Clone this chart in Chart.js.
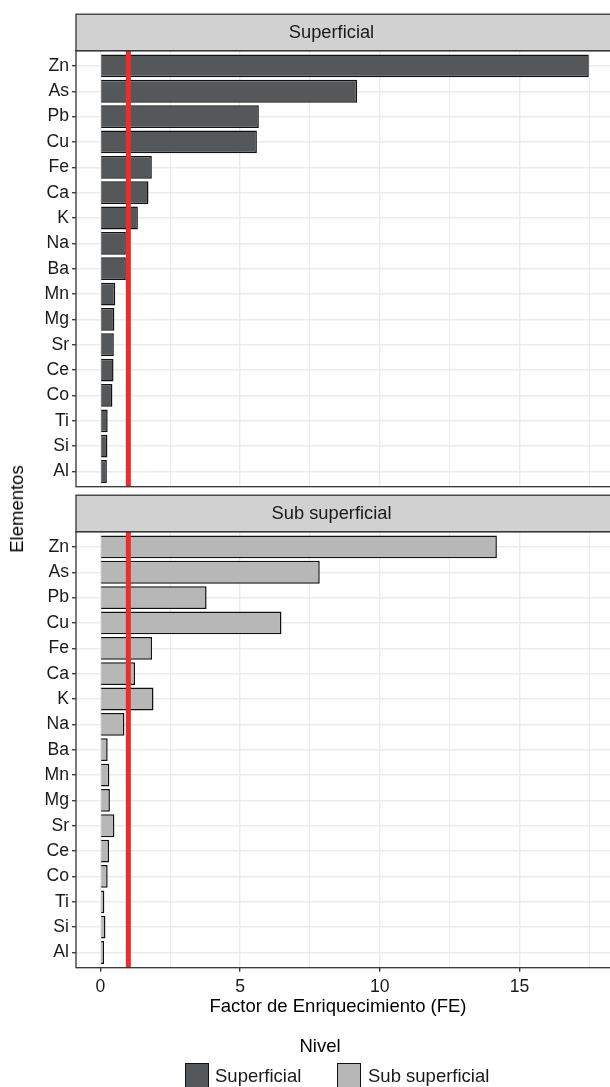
<!DOCTYPE html>
<html>
<head>
    <meta charset="utf-8" />
    <title>Factor de Enriquecimiento</title>
    <style>
        body { margin: 0; background: #fff; font-family: "Liberation Sans", Arial, sans-serif; }
        #wrap { position: relative; width: 610px; height: 1087px; overflow: hidden; }
        canvas { position: absolute; left: 0; }
        #c1 { top: 0; }
        #c2 { top: 488px; }
        .txt { position: absolute; color: #000; font-size: 18.5px; white-space: nowrap; }
        #ytitle { left: 17px; top: 509px; transform: translate(-50%, -50%) rotate(-90deg); }
        #xtitle { left: 338px; top: 1006px; transform: translate(-50%, -50%); }
        #nivel { left: 320px; top: 1046px; transform: translate(-50%, -50%); }
        .key { position: absolute; top: 1063px; width: 22px; height: 23px; border: 1.3px solid #111; }
        .lab { top: 1076px; transform: translateY(-50%); color: #1a1a1a; }
    </style>
</head>
<body>
<div id="wrap">
    <canvas id="c1" width="614" height="488"></canvas>
    <canvas id="c2" width="614" height="599"></canvas>
    <div class="txt" id="ytitle">Elementos</div>
    <div class="txt" id="xtitle">Factor de Enriquecimiento (FE)</div>
    <div class="txt" id="nivel">Nivel</div>
    <div class="key" style="left:185px; background:#54585a;"></div>
    <div class="txt lab" style="left:215px;">Superficial</div>
    <div class="key" style="left:337px; background:#b6b7b6;"></div>
    <div class="txt lab" style="left:368px;">Sub superficial</div>
</div>
<script src="https://cdn.jsdelivr.net/npm/chart.js@4.4.1/dist/chart.umd.min.js"></script>
<script>
    // datos
    var elementos = ['Zn', 'As', 'Pb', 'Cu', 'Fe', 'Ca', 'K', 'Na', 'Ba', 'Mn', 'Mg', 'Sr', 'Ce', 'Co', 'Ti', 'Si', 'Al'];
    var feSuperficial = [17.48, 9.19, 5.67, 5.60, 1.84, 1.72, 1.34, 0.91, 0.91, 0.53, 0.50, 0.48, 0.47, 0.43, 0.26, 0.25, 0.23];
    var feSubSuperficial = [14.19, 7.85, 3.80, 6.48, 1.85, 1.24, 1.90, 0.86, 0.26, 0.32, 0.34, 0.50, 0.31, 0.26, 0.14, 0.18, 0.13];
    var xTicks = [0, 2.5, 5, 7.5, 10, 12.5, 15, 17.5];
    var xTickLabels = ['0', '', '5', '', '10', '', '15', ''];
    var umbral = 1;

    var fuente = '"Liberation Sans", Arial, sans-serif';
    Chart.defaults.font.family = fuente;
    Chart.defaults.color = '#1a1a1a';

    // rango como ggplot: 5% de expansion a cada lado
    var maxFE = Math.max.apply(null, feSuperficial.concat(feSubSuperficial));
    var xMin = -0.05 * maxFE, xMax = 1.05 * maxFE;

    // linea roja, borde del panel y franja del titulo
    var panelPlugin = {
        id: 'panel',
        afterDatasetsDraw: function (chart, args, opts) {
            var ctx = chart.ctx, a = chart.chartArea, x = chart.scales.x;
            var px = x.getPixelForValue(umbral);
            ctx.save();
            ctx.strokeStyle = '#ee2c2c';
            ctx.lineWidth = 5;
            ctx.beginPath();
            ctx.moveTo(px, a.top);
            ctx.lineTo(px, a.bottom);
            ctx.stroke();

            ctx.strokeStyle = '#333333';
            ctx.lineWidth = 1.3;
            ctx.strokeRect(a.left, a.top, a.right - a.left, a.bottom - a.top);

            var top = a.top - opts.stripHeight;
            ctx.fillStyle = '#d0d1d0';
            ctx.fillRect(a.left, top, a.right - a.left, opts.stripHeight);
            ctx.strokeRect(a.left, top, a.right - a.left, opts.stripHeight);
            ctx.fillStyle = '#1a1a1a';
            ctx.font = '18.3px ' + fuente;
            ctx.textAlign = 'center';
            ctx.textBaseline = 'middle';
            ctx.fillText(opts.text, opts.textX, top + opts.stripHeight / 2 + 1);
            ctx.restore();
        }
    };

    function hacerPanel(id, titulo, valores, color, abajo) {
        var alturaEje = abajo ? 40 : 0;
        var canvas = document.getElementById(id);
        var padTop = abajo ? 43.7 : 50.7;
        var padBottom = canvas.height - (padTop + 436) - alturaEje;

        return new Chart(canvas.getContext('2d'), {
            type: 'bar',
            data: {
                datasets: [{
                    label: titulo,
                    data: valores.map(function (v, i) { return { x: v, y: i }; }),
                    backgroundColor: color,
                    borderColor: '#111111',
                    borderWidth: 1.5,
                    barPercentage: 0.9,
                    categoryPercentage: 1
                }]
            },
            options: {
                indexAxis: 'y',
                responsive: false,
                animation: false,
                layout: { padding: { top: padTop, bottom: padBottom, left: 0, right: 0.8 } },
                plugins: {
                    legend: { display: false },
                    tooltip: { enabled: false },
                    panel: { text: titulo, stripHeight: 36.5, textX: 331.5 }
                },
                scales: {
                    x: {
                        type: 'linear',
                        min: xMin,
                        max: xMax,
                        afterBuildTicks: function (s) { s.ticks = xTicks.map(function (v) { return { value: v }; }); },
                        afterFit: function (s) {
                            s.height = alturaEje;
                            s.paddingLeft = 0; s.paddingRight = 0;
                        },
                        border: { display: false },
                        grid: {
                            color: '#ebebeb',
                            lineWidth: function (c) { return c.tick && c.tick.value % 5 === 0 ? 1.4 : 0.9; },
                            drawTicks: abajo,
                            tickLength: 4,
                            tickWidth: 1.3,
                            tickColor: function (c) { return c.tick && c.tick.value % 5 === 0 ? '#333333' : 'rgba(0,0,0,0)'; }
                        },
                        ticks: {
                            display: abajo,
                            autoSkip: false,
                            maxRotation: 0,
                            padding: 5,
                            font: { size: 17.6 },
                            color: '#1a1a1a',
                            callback: function (v, i) { return xTickLabels[i]; }
                        }
                    },
                    y: {
                        type: 'linear',
                        min: -0.6,
                        max: elementos.length - 0.4,
                        reverse: true,
                        offset: false,
                        afterBuildTicks: function (s) { s.ticks = elementos.map(function (e, i) { return { value: i }; }); },
                        afterFit: function (s) {
                            s.width = 76;
                            s.paddingTop = 0; s.paddingBottom = 0;
                        },
                        border: { display: false },
                        grid: {
                            offset: false,
                            color: '#ebebeb',
                            lineWidth: 1.4,
                            tickLength: 4,
                            tickWidth: 1.3,
                            tickColor: '#333333'
                        },
                        ticks: {
                            autoSkip: false,
                            padding: 3,
                            font: { size: 17.6 },
                            color: '#1a1a1a',
                            callback: function (v) { return elementos[v]; }
                        }
                    }
                }
            },
            plugins: [panelPlugin]
        });
    }

    hacerPanel('c1', 'Superficial', feSuperficial, '#54585a', false);
    hacerPanel('c2', 'Sub superficial', feSubSuperficial, '#b6b7b6', true);
</script>
</body>
</html>
